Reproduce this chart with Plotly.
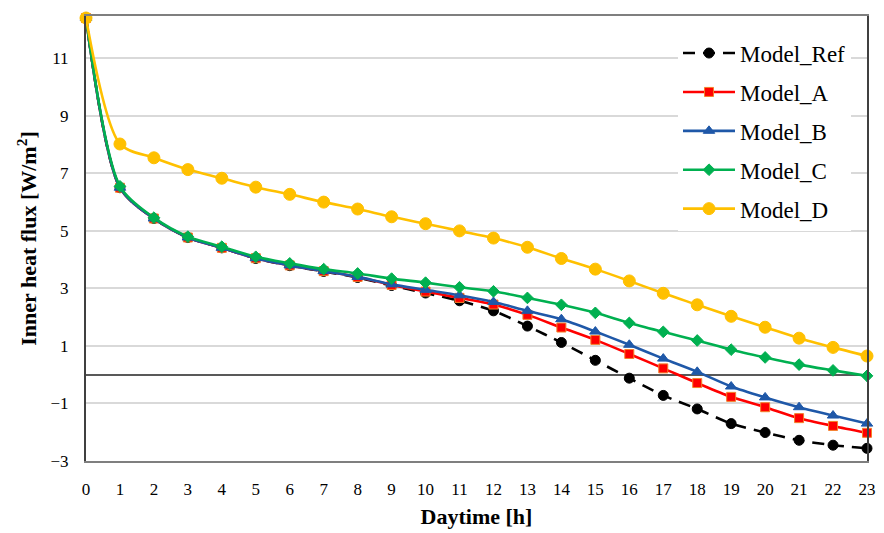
import plotly.graph_objects as go

# Hourly inner-surface heat flux for each model variant
hours = list(range(24))
model_ref = [12.4, 6.5, 5.43, 4.77, 4.41, 4.04, 3.79, 3.59, 3.38, 3.10, 2.84, 2.57,
             2.22, 1.69, 1.12, 0.50, -0.12, -0.72, -1.19, -1.70, -2.01, -2.28, -2.45, -2.56]
model_a = [12.4, 6.5, 5.43, 4.77, 4.41, 4.05, 3.80, 3.60, 3.40, 3.12, 2.89, 2.67,
           2.44, 2.08, 1.64, 1.21, 0.72, 0.22, -0.29, -0.77, -1.13, -1.51, -1.78, -2.02]
model_b = [12.4, 6.5, 5.43, 4.77, 4.41, 4.05, 3.80, 3.60, 3.40, 3.14, 2.95, 2.76,
           2.53, 2.22, 1.93, 1.50, 1.04, 0.56, 0.10, -0.41, -0.79, -1.13, -1.42, -1.70]
model_c = [12.4, 6.55, 5.46, 4.80, 4.45, 4.10, 3.87, 3.67, 3.52, 3.34, 3.20, 3.04,
           2.90, 2.67, 2.43, 2.15, 1.80, 1.49, 1.19, 0.87, 0.60, 0.35, 0.15, -0.04]
model_d = [12.4, 8.02, 7.54, 7.13, 6.83, 6.52, 6.27, 6.00, 5.76, 5.49, 5.25, 5.00,
           4.75, 4.43, 4.04, 3.67, 3.26, 2.83, 2.43, 2.03, 1.65, 1.27, 0.95, 0.65]

y_ticks = [-3, -1, 1, 3, 5, 7, 9, 11]

FONT = "'Liberation Serif', 'Times New Roman', Times, serif"

series = [
    ("Model_Ref", model_ref, "#000000", "12px,8px", "circle", 10, "#000000"),
    ("Model_A", model_a, "#FF0000", "solid", "square", 9, "#F4812A"),
    ("Model_B", model_b, "#1F58A8", "solid", "triangle-up", 10, "#1F58A8"),
    ("Model_C", model_c, "#00B050", "solid", "diamond", 9, "#00B050"),
    ("Model_D", model_d, "#FFC000", "solid", "circle", 12, "#FFC000"),
]

fig = go.Figure()
for name, vals, color, dash, symbol, size, edge in series:
    fig.add_trace(go.Scatter(
        x=hours, y=vals, name=name, mode="lines+markers",
        line=dict(color=color, width=2.6, dash=dash, shape="spline", smoothing=0.8),
        marker=dict(symbol=symbol, size=size, color=color,
                    line=dict(color=edge, width=1)),
        cliponaxis=False, legendgroup=name,
    ))

fig.update_layout(
    width=884, height=533,
    margin=dict(l=86, r=8, t=16, b=65),
    paper_bgcolor="white", plot_bgcolor="white",
    font=dict(family=FONT, color="#000000"),
    showlegend=True,
    legend=dict(
        x=0.758, y=0.965, xanchor="left", yanchor="top",
        bgcolor="white", borderwidth=0,
        font=dict(family=FONT, size=23, color="#000000"),
        tracegroupgap=6, itemwidth=52,
    ),
    xaxis=dict(
        range=[0, 23], tickmode="array", tickvals=hours,
        ticktext=[str(h) for h in hours],
        showgrid=False, zeroline=False,
        showline=True, linecolor="#7F7F7F", linewidth=2, mirror=True,
        ticks="", ticklabelstandoff=12,
        tickfont=dict(family=FONT, size=17, color="#000000"),
        title=dict(text="<b>Daytime [h]</b>", standoff=10,
                   font=dict(family=FONT, size=22, color="#000000")),
    ),
    yaxis=dict(
        range=[-3, 12.47], tickmode="array", tickvals=y_ticks,
        showgrid=True, gridcolor="#D9D9D9", gridwidth=1.5,
        zeroline=True, zerolinecolor="#595959", zerolinewidth=1.5,
        showline=True, linecolor="#404040", linewidth=2, mirror=True,
        ticks="", ticklabelstandoff=12,
        tickfont=dict(family=FONT, size=17, color="#000000"),
        title=dict(text="<b>Inner heat flux [W/m<sup>2</sup>]</b>", standoff=8,
                   font=dict(family=FONT, size=22, color="#000000")),
    ),
)

fig.write_html("out.html")
